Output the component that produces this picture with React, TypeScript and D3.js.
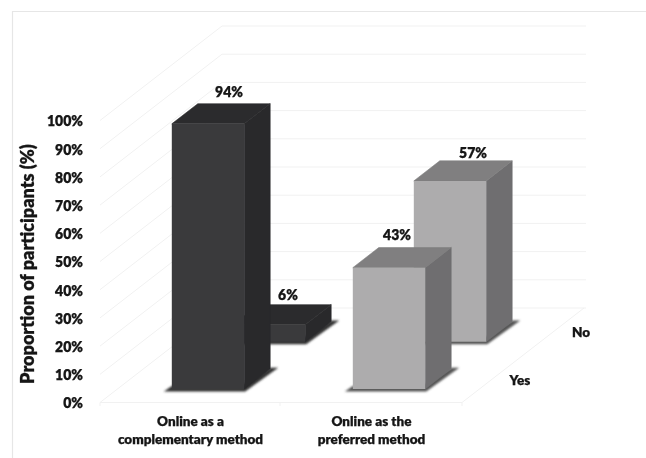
import React from "react";
import * as d3 from "d3";

const categories = ["Online as a complementary method", "Online as the preferred method"];
const categoryLines = [["Online as a", "complementary method"], ["Online as the", "preferred method"]];
const seriesNames = ["Yes", "No"];
const yesValues = [94, 43];
const noValues = [6, 57];
const yTicks = [0, 10, 20, 30, 40, 50, 60, 70, 80, 90, 100];

const W = 646, H = 458;
const FONT = "Lato, Carlito, sans-serif";
const INK = "#141414";
const depthX = 122, depthY = 94.5;
const darkFaces = { front: "#3a3a3c", top: "#2b2b2d", side: "#29292b" };
const lightFaces = { front: "#adacad", top: "#807f80", side: "#6f6e70" };
const GRID = "#f1f1f1";

const xBand = d3.scaleBand<string>().domain(categories).range([100, 462]);
const zBand = d3.scaleBand<string>().domain(seriesNames).range([0, 1]);
const y = d3.scaleLinear().domain([0, 100]).range([402.5, 120.5]);
const barW = xBand.bandwidth() * 0.4;
const barD = zBand.bandwidth() * 0.426;

const proj = (x: number, t: number, v: number): [number, number] => [x + depthX * t, y(v) - depthY * t];
const poly = (pts: [number, number][]) => pts.map((p) => p.join(",")).join(" ");

// label nudges relative to the centre of each bar's top face: [series][category]
const labelNudge: Record<string, [number, number][]> = {
  No: [[6, -10.5], [10, -8.5]],
  Yes: [[8, -12.5], [-5, -13]],
};

const textStyle = { fontFamily: FONT, fontWeight: 800, fill: INK, stroke: INK, strokeWidth: 0.25 } as const;

export default function App() {
  const bars = ["No", "Yes"].flatMap((s) =>
    categories.map((c, i) => {
      const v = (s === "Yes" ? yesValues : noValues)[i];
      const x0 = xBand(c)! + (xBand.bandwidth() - barW) / 2;
      const t0 = zBand(s)! + (zBand.bandwidth() - barD) / 2;
      return { s, c, i, v, x0, x1: x0 + barW, t0, t1: t0 + barD, faces: i === 0 ? darkFaces : lightFaces };
    })
  );
  return (
    <svg width={W} height={H} viewBox={`0 0 ${W} ${H}`} style={{ position: "absolute", left: 0, top: 0, background: "#fff" }}>
      <defs>
        <filter id="soft" x="-5%" y="-5%" width="110%" height="110%"><feGaussianBlur stdDeviation="0.4" /></filter>
        <filter id="shadow" x="-30%" y="-30%" width="160%" height="160%"><feGaussianBlur stdDeviation="1.3" /></filter>
      </defs>
      <g filter="url(#soft)">
        <path d={`M646,11.5H12.5V458`} fill="none" stroke="#e6e6e6" strokeWidth={1.2} />
        {yTicks.map((t) => {
          const a = proj(100, 0, t), b = proj(100, 1, t);
          return (
            <g key={t}>
              <polyline points={poly([a, b, [586, b[1]]])} fill="none" stroke={GRID} strokeWidth={1} />
              <text x={83} y={a[1]} dy="0.42em" textAnchor="end" fontSize={14} {...textStyle}>{t}%</text>
            </g>
          );
        })}
        <polyline points={poly([proj(100, 0, 0), proj(462, 0, 0), proj(462, 1, 0)])} fill="none" stroke={GRID} strokeWidth={1} />
        {[100, 280, 462].map((x) => (
          <line key={x} x1={x} x2={x} y1={402.5} y2={406} stroke={GRID} />
        ))}
        <text transform="translate(28,264) rotate(-90)" textAnchor="middle" dy="0.35em" fontSize={18} {...textStyle}>Proportion of participants (%)</text>
      </g>

      {bars.map((b) => {
        const fbl = proj(b.x0, b.t0, 0), fbr = proj(b.x1, b.t0, 0), bbr = proj(b.x1, b.t1, 0);
        return (
          <polygon
            key={"shadow" + b.s + b.i}
            filter="url(#shadow)"
            fill={b.faces === darkFaces ? "#333" : "#555"}
            points={poly([
              [fbl[0] - 8, fbl[1] + 2.5],
              [fbr[0] + 1, fbr[1] + 2.5],
              [bbr[0] + 8, bbr[1] - 1],
              [bbr[0], bbr[1] - 1],
              [fbr[0] - 2, fbr[1] - 4],
              [fbl[0], fbl[1] - 3],
            ])}
          />
        );
      })}

      {bars.map((b) => {
        const { x0, x1, t0, t1, v, faces } = b;
        const fbl = proj(x0, t0, 0), fbr = proj(x1, t0, 0), bbr = proj(x1, t1, 0);
        const ftl = proj(x0, t0, v), ftr = proj(x1, t0, v), btl = proj(x0, t1, v), btr = proj(x1, t1, v);
        return (
          <g key={b.s + b.i}>
            <polygon points={poly([fbr, bbr, btr, ftr])} fill={faces.side} stroke={faces.side} strokeWidth={0.6} strokeLinejoin="round" />
            <polygon points={poly([ftl, ftr, btr, btl])} fill={faces.top} stroke={faces.top} strokeWidth={0.6} strokeLinejoin="round" />
            <polygon points={poly([fbl, fbr, ftr, ftl])} fill={faces.front} />
          </g>
        );
      })}

      <g filter="url(#soft)">
        {bars.map((b) => {
          const nudge = labelNudge[b.s][b.i];
          const topMid = proj(b.x0 + barW / 2, b.t1, b.v);
          return (
            <text key={"label" + b.s + b.i} x={topMid[0] - depthX * barD / 2 + nudge[0]} y={topMid[1] + nudge[1]} dy="0.42em" textAnchor="middle" fontSize={14} {...textStyle}>{b.v}%</text>
          );
        })}
        {categories.map((c, i) =>
          categoryLines[i].map((line, j) => (
            <text key={c + j} x={xBand(c)! + xBand.bandwidth() / 2} y={421 + j * 18} dy="0.35em" textAnchor="middle" fontSize={13.5} {...textStyle}>{line}</text>
          ))
        )}
        {seriesNames.map((s) => {
          const p = proj(462, zBand(s)! + zBand.bandwidth() / 2, 0);
          return (
            <text key={s} x={p[0] + 27.5} y={p[1] + 1} dy="0.35em" fontSize={13.5} textAnchor="middle" {...textStyle}>{s}</text>
          );
        })}
      </g>
    </svg>
  );
}
